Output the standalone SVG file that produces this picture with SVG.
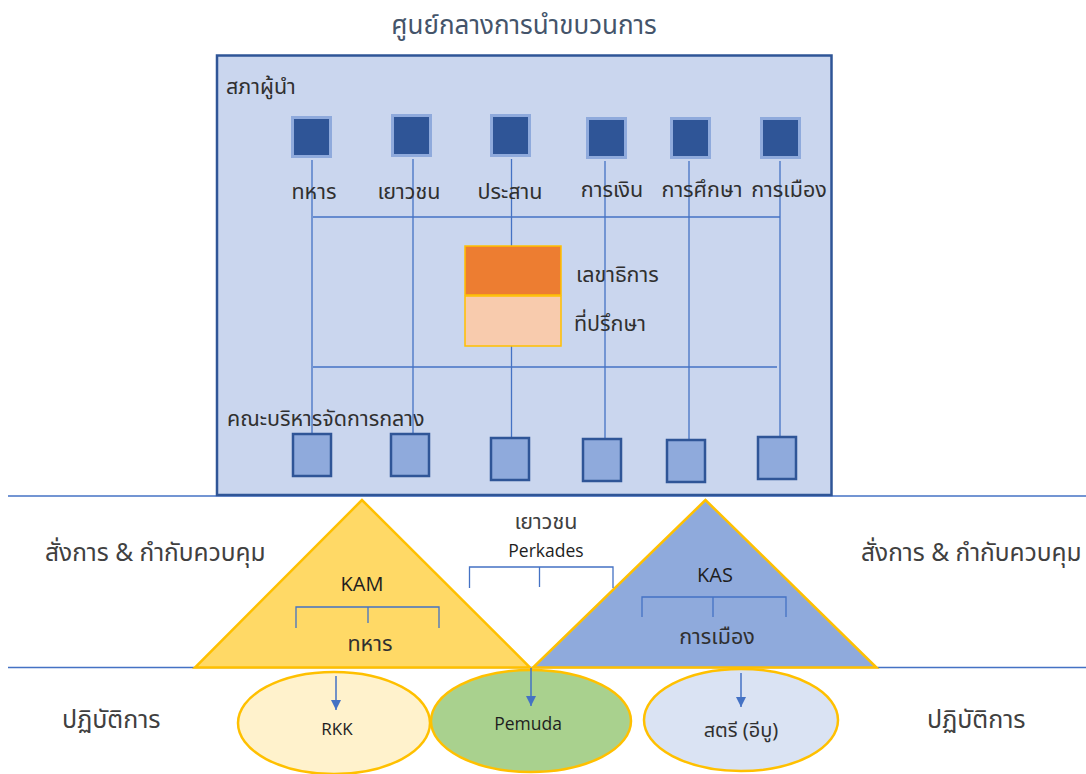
<svg xmlns="http://www.w3.org/2000/svg" width="1086" height="774" viewBox="0 0 1086 774">
<defs>
<style>
text{font-family:"Noto Sans Thai","Leelawadee UI","Open Sans","Noto Sans","DejaVu Sans",sans-serif;fill:#303030}
.t{font-size:26px;fill:#44546A;text-anchor:middle}
.lbl{font-size:21.5px}
.c{text-anchor:middle}
.side{font-size:24.5px;fill:#404040}
.side2{font-size:25px;fill:#404040}
.lat{font-family:"Open Sans","Noto Sans",sans-serif;font-size:20px;text-anchor:middle;fill:#1E1E1E}
.sq1{fill:#2F5597;stroke:#8FAADC;stroke-width:3}
.sq2{fill:#8FAADC;stroke:#2F5597;stroke-width:2.5}
.ln{stroke:#4472C4;stroke-width:1.3;fill:none}
.sep{stroke:#4472C4;stroke-width:1.3;fill:none}
.tri{stroke:#FFC000;stroke-width:2.5;stroke-linejoin:miter}
.ell{stroke:#FFC000;stroke-width:2.5}
.arr{stroke:#4472C4;stroke-width:1.5;fill:none;marker-end:url(#ah)}
</style>
<marker id="ah" markerWidth="10" markerHeight="10" refX="10" refY="5" orient="auto" markerUnits="userSpaceOnUse" viewBox="0 0 10 10">
<path d="M0,0 L10,5 L0,10 Z" fill="#4472C4"/>
</marker>
</defs>
<rect width="1086" height="774" fill="#FFFFFF"/>

<g id="separators">
<line class="sep" x1="8" y1="496" x2="1086" y2="496"/>
<line class="sep" x1="8" y1="667.5" x2="1086" y2="667.5"/>
</g>

<text class="t" x="524" y="34">ศูนย์กลางการนำขบวนการ</text>

<g id="center-box">
<rect x="217" y="55.5" width="614.5" height="439.5" fill="#CAD6EE" stroke="#2F5597" stroke-width="2.5"/>
<text class="lbl" x="226" y="94">สภาผู้นำ</text>
<text class="lbl" x="227" y="426">คณะบริหารจัดการกลาง</text>
</g>

<g id="connectors">
<line class="ln" x1="313" y1="217" x2="780" y2="217"/>
<line class="ln" x1="313" y1="367" x2="777" y2="367"/>
<line class="ln" x1="312" y1="160" x2="312" y2="433"/>
<line class="ln" x1="413" y1="159" x2="413" y2="433"/>
<line class="ln" x1="511.5" y1="159" x2="511.5" y2="246"/>
<line class="ln" x1="511.5" y1="346" x2="511.5" y2="437"/>
<line class="ln" x1="605" y1="161" x2="605" y2="438"/>
<line class="ln" x1="689" y1="161" x2="689" y2="439"/>
<line class="ln" x1="780" y1="161" x2="780" y2="436"/>
</g>

<g id="leaders">
<rect class="sq1" x="292.5" y="117.5" width="38" height="39"/>
<rect class="sq1" x="392.5" y="115.5" width="38" height="40"/>
<rect class="sq1" x="491.5" y="115.5" width="38" height="40"/>
<rect class="sq1" x="587.5" y="118.5" width="38" height="39"/>
<rect class="sq1" x="671.5" y="118.5" width="38" height="39"/>
<rect class="sq1" x="761.5" y="118.5" width="38" height="39"/>
<text class="lbl c" x="314" y="199">ทหาร</text>
<text class="lbl c" x="409" y="199">เยาวชน</text>
<text class="lbl c" x="510" y="199">ประสาน</text>
<text class="lbl c" x="612" y="197">การเงิน</text>
<text class="lbl c" x="702" y="197">การศึกษา</text>
<text class="lbl c" x="789" y="197">การเมือง</text>
</g>

<g id="secretariat">
<rect x="465" y="246" width="96" height="49" fill="#ED7D31" stroke="#FFC000" stroke-width="1.5"/>
<rect x="465" y="296" width="96" height="50" fill="#F8CBAD" stroke="#FFC000" stroke-width="1.5"/>
<text class="lbl" x="576" y="282">เลขาธิการ</text>
<text class="lbl" x="574" y="331">ที่ปรึกษา</text>
</g>

<g id="executives">
<rect class="sq2" x="293" y="434" width="38" height="42"/>
<rect class="sq2" x="391" y="434" width="38" height="42"/>
<rect class="sq2" x="491" y="438" width="38" height="42"/>
<rect class="sq2" x="583" y="439" width="38" height="42"/>
<rect class="sq2" x="667" y="440" width="38" height="42"/>
<rect class="sq2" x="758" y="437" width="38" height="42"/>
</g>

<g id="kam">
<polygon class="tri" points="362,500 195,667.5 530,667.5" fill="#FFD966"/>
<path class="ln" d="M296,628 V607 H439 V628 M368,607 V623"/>
<text class="lat" x="362" y="591">KAM</text>
<text class="lbl c" x="370" y="651">ทหาร</text>
</g>

<g id="kas">
<polygon class="tri" points="705.5,500 533,667.5 876.5,667.5" fill="#8FAADC"/>
<path class="ln" d="M642,617 V597 H786 V617 M713,597 V617"/>
<text class="lat" x="715" y="582">KAS</text>
<text class="lbl c" x="717" y="644">การเมือง</text>
</g>

<g id="perkades">
<text class="lbl c" x="546" y="529" style="fill:#404040">เยาวชน</text>
<text class="lat" x="546" y="557" style="font-size:17.5px">Perkades</text>
<path class="ln" d="M469.5,588 V567 H613 V588 M539.5,567 V587"/>
</g>

<g id="side-labels">
<text class="side" x="45" y="561">สั่งการ &amp; กำกับควบคุม</text>
<text class="side" x="861" y="561">สั่งการ &amp; กำกับควบคุม</text>
<text class="side2" x="62" y="728">ปฏิบัติการ</text>
<text class="side2" x="927" y="728">ปฏิบัติการ</text>
</g>

<g id="rkk">
<ellipse class="ell" cx="334" cy="723" rx="96" ry="51" fill="#FFF2CC"/>
<text class="lat" x="337" y="735" style="font-size:17px">RKK</text>
</g>
<g id="pemuda">
<ellipse class="ell" cx="531" cy="721" rx="100" ry="51" fill="#A9D18E"/>
<text class="lat" x="528" y="730" style="font-size:17.5px">Pemuda</text>
</g>
<g id="satri">
<ellipse class="ell" cx="741" cy="720" rx="97" ry="51" fill="#DAE3F3"/>
<text class="c" x="741" y="737" style="font-size:20px">สตรี (อีบู)</text>
</g>

<g id="arrows">
<line class="arr" x1="336" y1="676" x2="336" y2="710"/>
<line class="arr" x1="531" y1="668" x2="531" y2="706"/>
<line class="arr" x1="741" y1="673" x2="741" y2="707"/>
</g>
</svg>
